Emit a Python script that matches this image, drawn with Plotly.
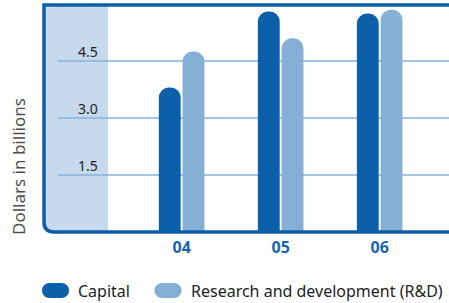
import plotly.graph_objects as go

categories = ["04", "05", "06"]
capital = [3.8, 5.8, 5.75]
rnd = [4.75, 5.1, 5.85]
series_names = ["Capital", "Research and development (R&D)"]
y_ticks = [1.5, 3.0, 4.5]
y_ticklabels = ["1.5", "3.0", "4.5"]
y_title = "Dollars in billions"

DARK = "#0b60a9"
LIGHT = "#85afd4"
SHADE = "#c6d9ed"
GRID = "#84b3de"
FRAME = "#0d5ea8"

fig = go.Figure()
fig.add_trace(go.Bar(x=categories, y=capital, name=series_names[0],
                     marker=dict(color=DARK, line=dict(width=0), cornerradius="50%")))
fig.add_trace(go.Bar(x=categories, y=rnd, name=series_names[1],
                     marker=dict(color=LIGHT, line=dict(width=0), cornerradius="50%")))

W, H = 449, 303
L, R, T, B = 44, 0, 5, 71
pw, ph = W - L - R, H - T - B

def px(xp):
    return (xp - L) / pw

def py(yp):
    return (H - B - yp) / ph

rx, ry = 10 / pw, 10 / ph
shade_x = px(108)

shapes = []
shapes.append(dict(type="path", xref="paper", yref="paper", layer="below",
                   path=f"M 0,1 L {shade_x},1 L {shade_x},0 L {rx},0 Q 0,0 0,{ry} Z",
                   fillcolor=SHADE, line=dict(width=0)))
for v in y_ticks:
    shapes.append(dict(type="line", xref="paper", yref="y", layer="between",
                       x0=px(58), x1=1.08, y0=v, y1=v,
                       line=dict(color=GRID, width=1.5)))
shapes.append(dict(type="path", xref="paper", yref="paper", layer="above",
                   path=f"M 1.08,1 L 0,1 L 0,{ry} Q 0,0 {rx},0 L 1.08,0",
                   line=dict(color=FRAME, width=3.5)))

pill = ("M -6,-7.5 L 6,-7.5 C 10.1,-7.5 13.5,-4.1 13.5,0 C 13.5,4.1 10.1,7.5 6,7.5 "
        "L -6,7.5 C -10.1,7.5 -13.5,4.1 -13.5,0 C -13.5,-4.1 -10.1,-7.5 -6,-7.5 Z")
leg_y = py(290.5)
for cx, col in [(55.5, DARK), (168, LIGHT)]:
    shapes.append(dict(type="path", xref="paper", yref="paper",
                       xsizemode="pixel", ysizemode="pixel",
                       xanchor=px(cx), yanchor=leg_y, path=pill,
                       fillcolor=col, line=dict(width=0)))

annotations = []
for tx, name in [(76, series_names[0]), (189, series_names[1])]:
    annotations.append(dict(x=px(tx), y=leg_y, xref="paper", yref="paper",
                            xanchor="left", yanchor="middle", showarrow=False,
                            text=name, font=dict(family="Noto Sans", size=16, color="#222222")))
annotations.append(dict(x=px(18), y=py(167), xref="paper", yref="paper",
                        xanchor="center", yanchor="middle", showarrow=False, textangle=-90,
                        text=y_title, font=dict(family="Noto Sans", size=17, color="#4d4d4d")))

fig.update_layout(
    width=W, height=H, autosize=False,
    margin=dict(l=L, r=R, t=T, b=B, pad=0, autoexpand=False),
    paper_bgcolor="white", plot_bgcolor="white",
    barmode="group", bargap=0.52, bargroupgap=0.08,
    showlegend=False,
    shapes=shapes, annotations=annotations,
    xaxis=dict(type="category", range=[-1.39, 2.70], showgrid=False, zeroline=False,
               showline=False, ticks="", ticklabelstandoff=4, automargin=False,
               tickfont=dict(family="Open Sans", size=16, color="#1a64ad", weight="bold")),
    yaxis=dict(range=[0, 227 / 38], tickvals=y_ticks, ticktext=y_ticklabels,
               showgrid=False, zeroline=False,
               showline=False, ticks="", ticklabelposition="inside", automargin=False,
               ticklabelstandoff=31, ticklabelshift=-9,
               tickfont=dict(family="Noto Sans", size=14, color="#222222")),
)

fig.write_html("out.html", config={"displayModeBar": False, "responsive": False},
               post_script=("document.documentElement.style.margin='0';"
                            "document.documentElement.style.overflow='hidden';"
                            "document.body.style.margin='0';"
                            "document.body.style.overflow='hidden';"))
